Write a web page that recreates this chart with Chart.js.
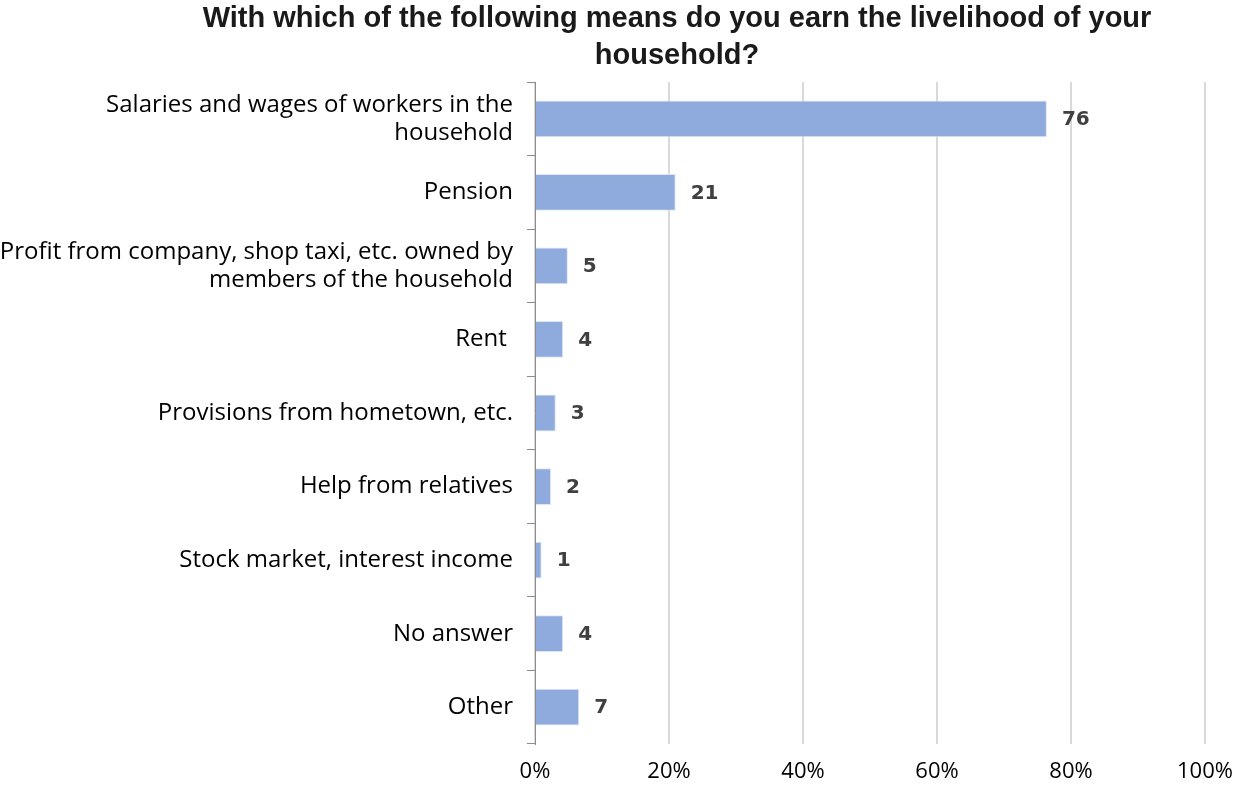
<!DOCTYPE html>
<html>
<head>
<meta charset="utf-8">
<script src="https://cdn.jsdelivr.net/npm/chart.js@4"></script>
<style>
  html, body { margin: 0; padding: 0; background: #fff; }
  #wrap { width: 1235px; height: 787px; }
</style>
</head>
<body>
<div id="wrap"><canvas id="chart"></canvas></div>
<script>
// Données
const titleLines = ['With which of the following means do you earn the livelihood of your', 'household?'];
const categories = [
  ['Salaries and wages of workers in the', 'household'],
  'Pension',
  ['Profit from company, shop taxi, etc. owned by', 'members of the household'],
  'Rent ',
  'Provisions from hometown, etc.',
  'Help from relatives',
  'Stock market, interest income',
  'No answer',
  'Other'
];
const values = [76.4, 21, 4.9, 4.2, 3.1, 2.4, 1.0, 4.2, 6.6];
const valueLabels = ['76', '21', '5', '4', '3', '2', '1', '4', '7'];
const xTicks = [0, 20, 40, 60, 80, 100];

// titre dessiné à la main pour le centrer comme sur l'original
const titrePlugin = {
  id: 'titrePlugin',
  afterDraw(chart) {
    const ctx = chart.ctx;
    ctx.save();
    ctx.font = 'bold 29px "Liberation Sans", Arial';
    ctx.fillStyle = '#1a1a1a';
    ctx.textAlign = 'center';
    ctx.textBaseline = 'middle';
    titleLines.forEach((t, i) => ctx.fillText(t, 677, 19 + i * 37));
    ctx.restore();
  }
};

// petit plugin pour écrire les valeurs au bout des barres
const barValues = {
  id: 'barValues',
  afterDatasetsDraw(chart) {
    const ctx = chart.ctx;
    const meta = chart.getDatasetMeta(0);
    ctx.save();
    ctx.font = 'bold 20px "DejaVu Sans"';
    ctx.fillStyle = '#404040';
    ctx.textAlign = 'left';
    ctx.textBaseline = 'middle';
    meta.data.forEach((bar, i) => {
      ctx.fillText(valueLabels[i], bar.x + 15, bar.y + 1);
    });
    ctx.restore();
  }
};

new Chart(document.getElementById('chart'), {
  type: 'bar',
  data: {
    labels: categories,
    datasets: [{
      data: values,
      backgroundColor: '#8faadc',
      borderColor: '#dce6f5',
      borderWidth: 1,
      categoryPercentage: 1,
      barPercentage: 0.5
    }]
  },
  options: {
    indexAxis: 'y',
    responsive: true,
    maintainAspectRatio: false,
    animation: false,
    layout: { padding: { left: 0, right: 30, top: 82, bottom: 0 } },
    plugins: {
      legend: { display: false },
      tooltip: { enabled: false },
      title: { display: false }
    },
    scales: {
      x: {
        min: 0,
        max: 100,
        afterBuildTicks: (axis) => { axis.ticks = xTicks.map(v => ({ value: v })); },
        afterFit: (axis) => { axis.height = 43; axis.paddingRight = 0; axis.paddingLeft = 0; },
        grid: { color: '#d9d9d9', lineWidth: 2, drawTicks: false },
        border: { display: false },
        ticks: {
          padding: 15,
          color: '#000',
          font: { family: '"Open Sans"', size: 22 },
          callback: (v) => v + '%'
        }
      },
      y: {
        afterFit: (axis) => { axis.width = 535; },
        grid: { offset: true, drawOnChartArea: false, drawTicks: true, tickLength: 8, color: '#8c8c8c' },
        border: { color: '#8c8c8c', width: 1 },
        ticks: {
          padding: 14,
          color: '#000',
          font: { family: '"Open Sans"', size: 24, lineHeight: 1.17 }
        }
      }
    }
  },
  plugins: [barValues, titrePlugin]
});
</script>
</body>
</html>
